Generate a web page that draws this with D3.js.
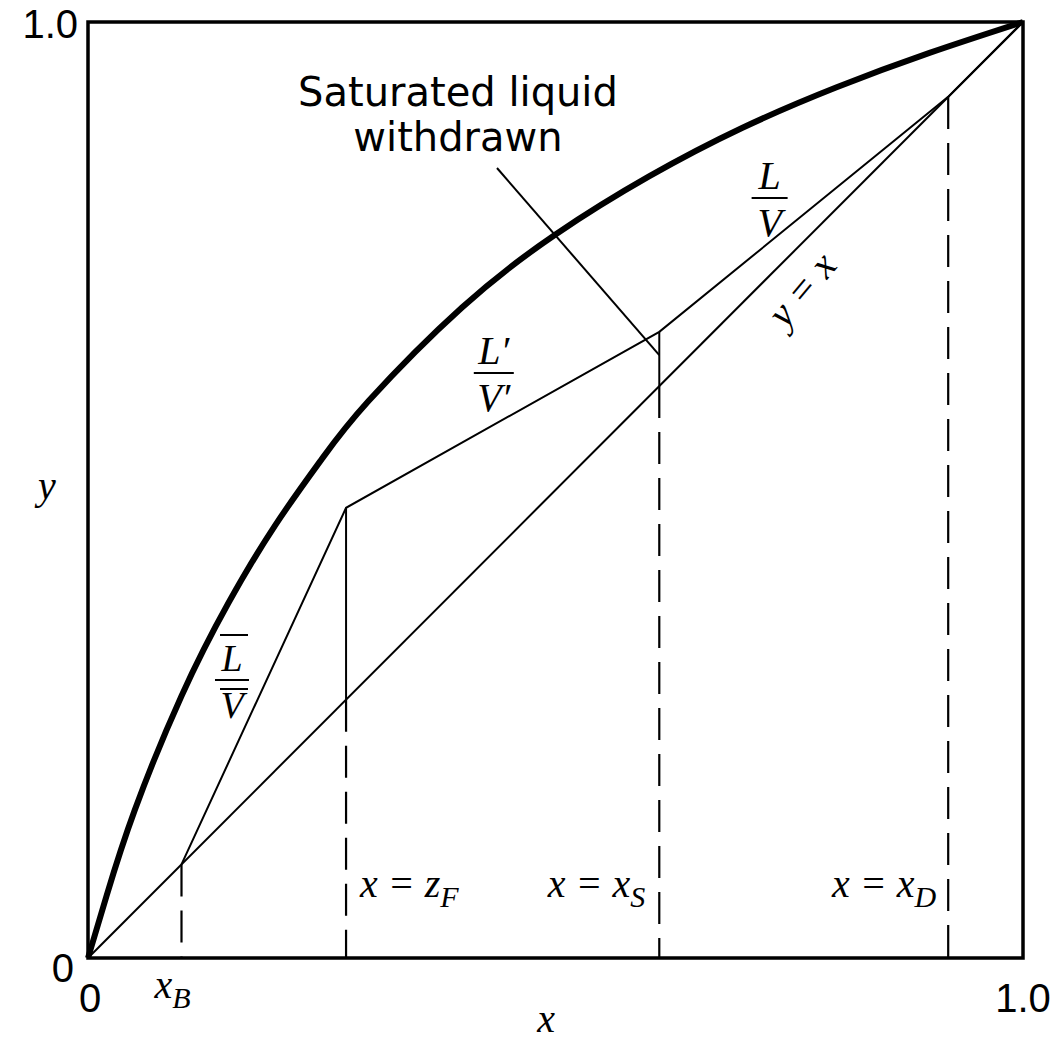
<!DOCTYPE html>
<html>
<head>
<meta charset="utf-8">
<script src="https://d3js.org/d3.v7.min.js"></script>
<style>
  body { margin: 0; background: #fff; }
  .tick-label { font-family: "Liberation Sans", Arial, sans-serif; font-size: 40px; fill: #000; }
  .math { font-family: "Liberation Serif", "Times New Roman", serif; font-style: italic; fill: #000; }
  .note { font-family: "DejaVu Sans", sans-serif; font-size: 40px; fill: #000; }
</style>
</head>
<body>
<script>
// equilibrium curve
var eqX = [0, 0.02, 0.05, 0.1, 0.15, 0.2, 0.25, 0.3, 0.4, 0.5, 0.6, 0.7, 0.8, 0.9, 1.0];
var eqY = [0, 0.067, 0.158, 0.28, 0.379, 0.462, 0.533, 0.595, 0.695, 0.773, 0.835, 0.887, 0.93, 0.967, 1.0];

// compositions on the x axis
var compNames = ["xB", "zF", "xS", "xD"];
var compX = [0.1, 0.276, 0.611, 0.92];

// operating line corners (y values)
var yFeed = 0.481;      // top of the feed line
var ySide = 0.669;      // top of the side-stream line
var yLeader = 0.644;    // where the leader line ends

var tickValues = [0, 1];
var tickLabels = ["0", "1.0"];

var w = 1060, h = 1044;
var svg = d3.select("body").append("svg").attr("width", w).attr("height", h);

var x = d3.scaleLinear().domain([0, 1]).range([88, 1023]);
var y = d3.scaleLinear().domain([0, 1]).range([958, 22]);

var xB = compX[0], zF = compX[1], xS = compX[2], xD = compX[3];

var line = d3.line().x(function(d) { return x(d[0]); }).y(function(d) { return y(d[1]); });

// y = x diagonal
svg.append("path")
    .attr("d", line([[0, 0], [1, 1]]))
    .attr("fill", "none").attr("stroke", "#000").attr("stroke-width", 2);

// operating lines
var opLine = [[xB, xB], [zF, yFeed], [xS, ySide], [xD, xD], [1, 1]];
svg.append("path")
    .attr("d", line(opLine))
    .attr("fill", "none").attr("stroke", "#000").attr("stroke-width", 2)
    .attr("stroke-linejoin", "miter");

// solid verticals from the operating line down to the diagonal
svg.append("path").attr("d", line([[zF, yFeed], [zF, zF]]))
    .attr("stroke", "#000").attr("stroke-width", 2);
svg.append("path").attr("d", line([[xS, ySide], [xS, xS]]))
    .attr("stroke", "#000").attr("stroke-width", 2);

// dashed drops to the x axis
compX.forEach(function(c) {
    svg.append("path").attr("d", line([[c, c], [c, 0]]))
        .attr("stroke", "#000").attr("stroke-width", 2.2)
        .attr("stroke-dasharray", "32,14");
});

// leader line for the side stream
svg.append("path")
    .attr("d", "M" + 497 + "," + 168 + "L" + x(xS) + "," + y(yLeader))
    .attr("stroke", "#000").attr("stroke-width", 2);

// equilibrium curve
svg.append("path")
    .datum(d3.zip(eqX, eqY))
    .attr("d", d3.line().x(function(d) { return x(d[0]); }).y(function(d) { return y(d[1]); })
        .curve(d3.curveNatural))
    .attr("fill", "none").attr("stroke", "#000").attr("stroke-width", 6);

// frame
svg.append("rect")
    .attr("x", x(0)).attr("y", y(1))
    .attr("width", x(1) - x(0)).attr("height", y(0) - y(1))
    .attr("fill", "none").attr("stroke", "#000").attr("stroke-width", 3.5);

// tick labels
svg.append("text").attr("class", "tick-label").attr("x", x(0) - 10).attr("y", y(1) + 16)
    .attr("text-anchor", "end").text(tickLabels[1]);
svg.append("text").attr("class", "tick-label").attr("x", x(0) - 14).attr("y", y(0) + 24)
    .attr("text-anchor", "end").text(tickLabels[0]);
svg.append("text").attr("class", "tick-label").attr("x", x(0) + 2).attr("y", y(0) + 54)
    .attr("text-anchor", "middle").text(tickLabels[0]);
svg.append("text").attr("class", "tick-label").attr("x", x(1)).attr("y", y(0) + 54)
    .attr("text-anchor", "middle").text(tickLabels[1]);

// axis titles
svg.append("text").attr("class", "math").attr("font-size", 40)
    .attr("x", x(0.49)).attr("y", 1032).attr("text-anchor", "middle").text("x");
svg.append("text").attr("class", "math").attr("font-size", 40)
    .attr("x", 47).attr("y", y(0.49)).attr("text-anchor", "middle").text("y");

// x_B label under the axis
var xbLab = svg.append("text").attr("class", "math").attr("font-size", 40)
    .attr("x", x(xB) - 27).attr("y", 998);
xbLab.append("tspan").text("x");
xbLab.append("tspan").attr("font-size", 30).attr("dy", 10).text("B");

// x = ... labels
function compLabel(lead, sub, cx, anchor, dx) {
    var t = svg.append("text").attr("class", "math").attr("font-size", 40)
        .attr("x", x(cx) + dx).attr("y", 897).attr("text-anchor", anchor);
    t.append("tspan").text(lead);
    t.append("tspan").attr("font-size", 30).attr("dy", 10).text(sub);
    return t;
}
compLabel("x = z", "F", zF, "start", 14);
compLabel("x = x", "S", xS, "end", -14);
compLabel("x = x", "D", xD, "end", -12);

// fractions
function fraction(cx, cy, top, bottom, barW, fs) {
    svg.append("text").attr("class", "math").attr("font-size", fs)
        .attr("x", cx).attr("y", cy - 9).attr("text-anchor", "middle").text(top);
    svg.append("line").attr("x1", cx - barW / 2).attr("x2", cx + barW / 2)
        .attr("y1", cy).attr("y2", cy).attr("stroke", "#000").attr("stroke-width", 2);
    svg.append("text").attr("class", "math").attr("font-size", fs)
        .attr("x", cx).attr("y", cy + 38).attr("text-anchor", "middle").text(bottom);
}
fraction(x(0.729), 198, "L", "V", 36, 40);
fraction(x(0.434), 373, "L\u2032", "V\u2032", 40, 40);
fraction(x(0.154), 680, "L", "V", 34, 38);
// overbars for L-bar / V-bar
svg.append("line").attr("x1", x(0.154) - 12).attr("x2", x(0.154) + 16)
    .attr("y1", 635).attr("y2", 635).attr("stroke", "#000").attr("stroke-width", 2);
svg.append("line").attr("x1", x(0.154) - 12).attr("x2", x(0.154) + 16)
    .attr("y1", 689).attr("y2", 689).attr("stroke", "#000").attr("stroke-width", 2);

// y = x along the diagonal
svg.append("text").attr("class", "math").attr("font-size", 40)
    .attr("text-anchor", "middle")
    .attr("transform", "translate(812,298) rotate(-50)")
    .text("y = x");

// side stream note
svg.append("text").attr("class", "note").attr("x", 458).attr("y", 106)
    .attr("text-anchor", "middle").text("Saturated liquid");
svg.append("text").attr("class", "note").attr("x", 458).attr("y", 151)
    .attr("text-anchor", "middle").text("withdrawn");
</script>
</body>
</html>
